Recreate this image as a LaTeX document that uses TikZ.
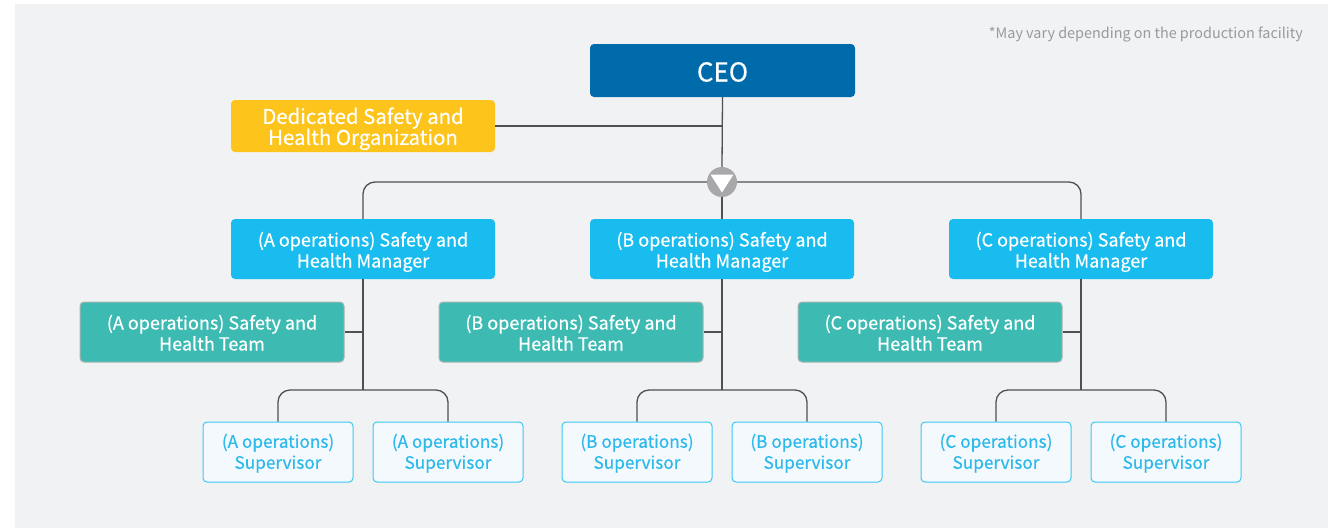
\documentclass[tikz,border=0pt]{standalone}
\usepackage{fontspec}
\usetikzlibrary{calc}
\setmainfont{Noto Sans CJK KR}[FakeBold=0.35]
\newfontfamily\notefont{Noto Sans CJK KR}
\lineskiplimit=-100pt
\definecolor{bg}{HTML}{F1F2F4}
\definecolor{ceoC}{HTML}{006BAA}
\definecolor{dedC}{HTML}{FDC41C}
\definecolor{mgrC}{HTML}{18BCEE}
\definecolor{teamC}{HTML}{3DBBB3}
\definecolor{teamB}{HTML}{A8B4B2}
\definecolor{supF}{HTML}{F3F9FD}
\definecolor{supB}{HTML}{3CC8F2}
\definecolor{supT}{HTML}{2DB9EA}
\definecolor{lineC}{HTML}{505050}
\definecolor{circC}{HTML}{A8A8AA}
\definecolor{noteC}{HTML}{9A9A9A}
% multi-line text with fixed strut height/depth per line
\newcommand\mlines[3]{\vbox{\halign{\hfil\vrule height #1 depth #2 width 0pt ##\hfil\cr #3\crcr}}}
\newcommand\btxt[2]{\mlines{21pt}{5pt}{#1\cr #2}}
\newcommand\dtxt[2]{\mlines{22pt}{5pt}{#1\cr #2}}
\newcommand\stxt[2]{\mlines{17.8pt}{5.2pt}{#1\cr #2}}
\tikzset{
  box/.style={rounded corners=4pt, inner sep=0pt, text=white, font=\fontsize{18}{21}\selectfont},
  ceobox/.style={box, fill=ceoC, minimum width=265pt, minimum height=53pt, font=\fontsize{26}{30}\selectfont},
  dedbox/.style={box, fill=dedC, minimum width=264pt, minimum height=52pt, font=\fontsize{20.4}{21}\selectfont},
  mgrbox/.style={box, fill=mgrC, minimum width=264pt, minimum height=60pt},
  teambox/.style={box, fill=teamC, draw=teamB, line width=1pt, minimum width=264pt, minimum height=60pt},
  supbox/.style={box, fill=supF, draw=supB, line width=1pt, text=supT, minimum width=150pt, minimum height=60pt, font=\fontsize{17.2}{21}\selectfont},
  conn/.style={draw=lineC, line width=1.3pt},
  rconn/.style={conn, rounded corners=12pt},
}
\begin{document}
\begin{tikzpicture}[x=1pt, y=-1pt]
\useasboundingbox (0,0) rectangle (1328,528);
\fill[bg] (15,4) rectangle (1328,528);
\node[anchor=base east, text=noteC, font=\notefont\fontsize{14.4}{15}\selectfont, inner sep=0pt] (note) at (1303,38) {*May vary depending on the production facility};

\node[ceobox] (ceo) at (722.5,70.5) {\mlines{27pt}{5pt}{CEO}};
\node[dedbox] (ded) at (363,126) {\dtxt{Dedicated Safety and}{Health Organization}};

\node[mgrbox] (mA) at (363,249) {\btxt{(A operations) Safety and}{Health Manager}};
\node[mgrbox] (mB) at (722,249) {\btxt{(B operations) Safety and}{Health Manager}};
\node[mgrbox] (mC) at (1081,249) {\btxt{(C operations) Safety and}{Health Manager}};

\node[teambox] (tA) at (212,332) {\btxt{(A operations) Safety and}{Health Team}};
\node[teambox] (tB) at (571,332) {\btxt{(B operations) Safety and}{Health Team}};
\node[teambox] (tC) at (930,332) {\btxt{(C operations) Safety and}{Health Team}};

\node[supbox] (sA1) at (278,452) {\stxt{(A operations)}{Supervisor}};
\node[supbox] (sA2) at (448,452) {\stxt{(A operations)}{Supervisor}};
\node[supbox] (sB1) at (637,452) {\stxt{(B operations)}{Supervisor}};
\node[supbox] (sB2) at (807,452) {\stxt{(B operations)}{Supervisor}};
\node[supbox] (sC1) at (996,452) {\stxt{(C operations)}{Supervisor}};
\node[supbox] (sC2) at (1166,452) {\stxt{(C operations)}{Supervisor}};

\node[circle, fill=circC, minimum size=30pt, inner sep=0pt] (circ) at (722,182) {};

\coordinate (jD) at (722,126);
\coordinate (jA) at (363,390);
\coordinate (jB) at (722,390);
\coordinate (jC) at (1081,390);

% connectors
\draw[conn] (ceo.south) -- (circ.north);
\draw[conn] (ded.east) -- (jD);
\draw[rconn] (circ.west) -| (mA.north);
\draw[rconn] (circ.east) -| (mC.north);
\draw[conn] (circ.south) -- (mB.north);

\foreach \m/\t/\j/\a/\b in {mA/tA/jA/sA1/sA2, mB/tB/jB/sB1/sB2, mC/tC/jC/sC1/sC2}{
  \draw[conn] (\m.south) -- (\j);
  \draw[conn] (\t.east) -- (\t.east -| \m.south);
  \draw[rconn] (\a.north) |- (\j) -| (\b.north);
}

% triangle in circle
\fill[white] ($(circ.center)+(-11.5,-7.5)$) -- ($(circ.center)+(11.5,-7.5)$) -- ($(circ.center)+(0,10.5)$) -- cycle;
\end{tikzpicture}
\end{document}
